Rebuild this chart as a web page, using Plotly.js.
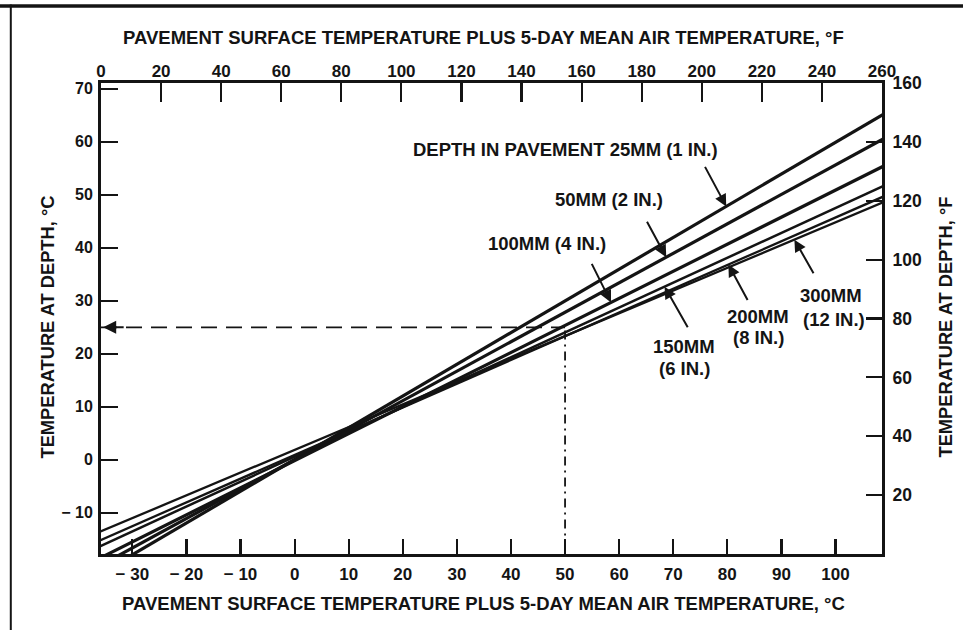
<!DOCTYPE html>
<html><head><meta charset="utf-8">
<script src="https://cdn.plot.ly/plotly-3.0.1.min.js"></script>
<style>html,body{margin:0;padding:0;background:#fff;}#chart{width:963px;height:630px;}</style>
</head><body><div id="chart"></div>
<script>
// Surface temperature (°C) at which each depth line is read
const surfaceC = [-40, 110];
// Temperature at depth (°C) for each depth line at those surface temperatures
const temp25mm  = [-23.9, 65.9];
const temp50mm  = [-22.2, 61.2];
const temp100mm = [-20.6, 56.0];
const temp150mm = [-18.2, 52.2];
const temp200mm = [-17.0, 50.2];
const temp300mm = [-15.3, 49.1];

const cTicks = [-30,-20,-10,0,10,20,30,40,50,60,70,80,90,100];
const cTickText = ['\u2212 30','\u2212 20','\u2212 10','0','10','20','30','40','50','60','70','80','90','100'];
const fTicksTop = [0,20,40,60,80,100,120,140,160,180,200,220,240,260];
const yCTicks = [-10,0,10,20,30,40,50,60,70];
const yCTickText = ['\u2212 10','0','10','20','30','40','50','60','70'];
const yFTicks = [20,40,60,80,100,120,140,160];

const exampleSurfaceC = 50;
const exampleDepthC = 25;

const INK = '#141414';
const lineW = [3.2, 3.2, 3.2, 2.5, 2.3, 2.3];
const series = [temp25mm, temp50mm, temp100mm, temp150mm, temp200mm, temp300mm];

function interp(xs, ys, x) {
  const t = (x - xs[0]) / (xs[1] - xs[0]);
  return ys[0] + t * (ys[1] - ys[0]);
}

const traces = series.map((ys, i) => ({
  x: surfaceC, y: ys, mode: 'lines', type: 'scatter',
  line: {color: INK, width: lineW[i]}, hoverinfo: 'skip', showlegend: false
}));

const xMin = -35.8, xMax = 108.6, yMin = -17.78, yMax = 71.11;

traces.push({
  x: [xMin, exampleSurfaceC], y: [exampleDepthC, exampleDepthC], mode: 'lines',
  line: {color: INK, width: 1.8, dash: '16px,9px'}, hoverinfo: 'skip', showlegend: false
});
traces.push({
  x: [exampleSurfaceC, exampleSurfaceC], y: [exampleDepthC - 0.6, yMin], mode: 'lines',
  line: {color: INK, width: 1.8, dash: '9px,5px,2px,5px'}, hoverinfo: 'skip', showlegend: false
});
// anchor trace for the Fahrenheit axes
traces.push({
  x: [0, 260], y: [0, 160], xaxis: 'x2', yaxis: 'y2', mode: 'markers',
  marker: {opacity: 0}, hoverinfo: 'skip', showlegend: false
});

const FAM = 'Arial, Liberation Sans, Helvetica, sans-serif';
const bold = (size) => ({family: FAM, size: size, color: INK, weight: 'bold'});

const annotations = [];
function txt(x, y, text, size) {
  annotations.push({x: x, y: y, xref: 'x', yref: 'y', text: text, showarrow: false,
    font: bold(size || 18.5), xanchor: 'center', yanchor: 'middle'});
}
// depth labels
txt(50.0, 58.5, 'DEPTH IN PAVEMENT 25MM (1 IN.)');
txt(58.2, 49.2, '50MM (2 IN.)');
txt(46.7, 40.9, '100MM (4 IN.)');
txt(72.0, 21.3, '150MM');
txt(72.0, 17.3, '(6 IN.)');
txt(85.7, 27.0, '200MM');
txt(85.7, 23.0, '(8 IN.)');
txt(99.2, 31.1, '300MM');
txt(99.8, 26.4, '(12 IN.)');

// arrows pointing at the lines
const arrowSpec = [
  {s: 0, x: 79.8, ax: -22, ay: -41},
  {s: 1, x: 68.7, ax: -20, ay: -37},
  {s: 2, x: 58.5, ax: -20, ay: -40},
  {s: 3, x: 68.4, ax: 24, ay: 42},
  {s: 4, x: 80.2, ax: 20, ay: 37},
  {s: 5, x: 92.4, ax: 20, ay: 35}
];
arrowSpec.forEach(a => {
  annotations.push({x: a.x, y: interp(surfaceC, series[a.s], a.x), xref: 'x', yref: 'y',
    text: '', showarrow: true, ax: a.ax, ay: a.ay, arrowhead: 2, arrowsize: 1.2, arrowwidth: 2,
    arrowcolor: INK, standoff: 0});
});
// example read-off arrow at left axis
annotations.push({x: xMin + 0.4, y: exampleDepthC, xref: 'x', yref: 'y', text: '', showarrow: true,
  ax: 22, ay: 0, arrowhead: 2, arrowsize: 1.3, arrowwidth: 2, arrowcolor: INK, standoff: 0});

// axis titles
annotations.push({x: 0.49, y: 1.0, xref: 'paper', yref: 'paper', yshift: 46, text: 'PAVEMENT SURFACE TEMPERATURE PLUS 5-DAY MEAN AIR TEMPERATURE, \u00B0F',
  showarrow: false, font: bold(18.5), xanchor: 'center', yanchor: 'middle'});
annotations.push({x: 0.49, y: 0, xref: 'paper', yref: 'paper', yshift: -49, text: 'PAVEMENT SURFACE TEMPERATURE PLUS 5-DAY MEAN AIR TEMPERATURE, \u00B0C',
  showarrow: false, font: bold(18.5), xanchor: 'center', yanchor: 'middle'});
annotations.push({x: 0, y: 0.5, xref: 'paper', yref: 'paper', xshift: -54, yshift: -9, text: 'TEMPERATURE AT DEPTH, \u00B0C',
  showarrow: false, font: bold(18.3), textangle: -90, xanchor: 'center', yanchor: 'middle'});
annotations.push({x: 1, y: 0.5, xref: 'paper', yref: 'paper', xshift: 63, yshift: -9, text: 'TEMPERATURE AT DEPTH, \u00B0F',
  showarrow: false, font: bold(18.3), textangle: -90, xanchor: 'center', yanchor: 'middle'});

const axCommon = {showline: true, linewidth: 3, linecolor: INK, showgrid: false, zeroline: false,
  ticks: 'inside', tickcolor: INK, tickwidth: 2.2, tickmode: 'array', fixedrange: true};

const layout = {
  width: 963, height: 630,
  margin: {l: 101, r: 81, t: 83, b: 76, pad: 0},
  paper_bgcolor: '#ffffff', plot_bgcolor: '#ffffff',
  showlegend: false,
  xaxis: Object.assign({}, axCommon, {range: [xMin, xMax], tickvals: cTicks, ticktext: cTickText,
    ticklen: 15, tickfont: bold(17), ticklabelstandoff: 3}),
  xaxis2: Object.assign({}, axCommon, {range: [0, 260], tickvals: fTicksTop, overlaying: 'x', side: 'top', anchor: 'y2',
    ticklen: 19, tickfont: bold(17), ticklabelstandoff: -4}),
  yaxis: Object.assign({}, axCommon, {range: [yMin, yMax], tickvals: yCTicks, ticktext: yCTickText,
    ticklen: 17, tickfont: bold(16), ticklabelstandoff: 2}),
  yaxis2: Object.assign({}, axCommon, {range: [0, 160], tickvals: yFTicks, overlaying: 'y', side: 'right', anchor: 'x2',
    ticklen: 16, tickfont: bold(17.5), ticklabelstandoff: 4}),
  annotations: annotations,
  shapes: [
    {type: 'line', xref: 'paper', yref: 'paper', x0: -0.14, x1: 1.11, y0: 1.1635, y1: 1.1635, line: {color: INK, width: 3.5}},
    {type: 'line', xref: 'paper', yref: 'paper', x0: -0.1155, x1: -0.1155, y0: 1.1665, y1: -0.17, line: {color: INK, width: 2}}
  ]
};

Plotly.newPlot('chart', traces, layout, {staticPlot: true, displayModeBar: false});
</script></body></html>
